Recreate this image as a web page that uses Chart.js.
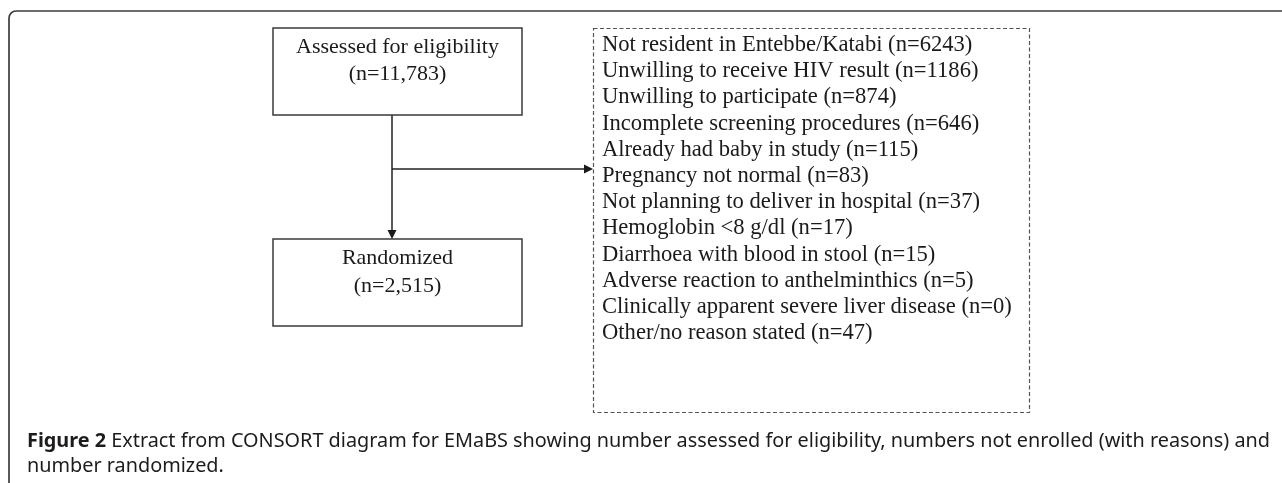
<!DOCTYPE html>
<html>
<head>
<meta charset="utf-8">
<script src="https://cdn.jsdelivr.net/npm/chart.js@4"></script>
<style>
    body { margin: 0; background: #fff; }
    canvas { display: block; }
</style>
</head>
<body>
<canvas id="consortChart" width="1282" height="483"></canvas>
<script>
// data
const assessedLabel = 'Assessed for eligibility';
const assessedCount = 11783;
const randomizedLabel = 'Randomized';
const randomizedCount = 2515;
const reasonLabels = [
    'Not resident in Entebbe/Katabi',
    'Unwilling to receive HIV result',
    'Unwilling to participate',
    'Incomplete screening procedures',
    'Already had baby in study',
    'Pregnancy not normal',
    'Not planning to deliver in hospital',
    'Hemoglobin <8 g/dl',
    'Diarrhoea with blood in stool',
    'Adverse reaction to anthelminthics',
    'Clinically apparent severe liver disease',
    'Other/no reason stated'
];
const reasonCounts = [6243, 1186, 874, 646, 115, 83, 37, 17, 15, 5, 0, 47];
const captionBold = 'Figure 2';
const captionLines = [
    ' Extract from CONSORT diagram for EMaBS showing number assessed for eligibility, numbers not enrolled (with reasons) and',
    'number randomized.'
];

// layout in diagram units (the axes run 0..1282 and 0..483, y downwards)
const topBox = {x1: 273, y1: 28, x2: 522, y2: 115};
const bottomBox = {x1: 273, y1: 239, x2: 522, y2: 326};
const reasonBox = {x1: 593, y1: 28, x2: 1029, y2: 412};
const stemX = 392;
const branchY = 169;

const serif = '"Liberation Serif", "DejaVu Serif", serif';
const sans = '"Noto Sans", "Open Sans", sans-serif';

const fmt = (n) => '(n=' + n + ')';

const drawArrowHead = (ctx, x, y, dir) => {
    ctx.beginPath();
    if (dir === 'down') {
        ctx.moveTo(x, y);
        ctx.lineTo(x - 4.5, y - 9);
        ctx.lineTo(x + 4.5, y - 9);
    } else {
        ctx.moveTo(x, y);
        ctx.lineTo(x - 9, y - 4.5);
        ctx.lineTo(x - 9, y + 4.5);
    }
    ctx.closePath();
    ctx.fill();
};

const flowPlugin = {
    id: 'flow',
    afterDatasetsDraw(chart) {
        const ctx = chart.ctx;
        const sx = chart.scales.x;
        const sy = chart.scales.y;
        const px = (v) => sx.getPixelForValue(v);
        const py = (v) => sy.getPixelForValue(v);
        ctx.save();

        // outer figure frame (top and left edges only, round corner)
        ctx.strokeStyle = '#3c3c3c';
        ctx.lineWidth = 1.7;
        ctx.beginPath();
        ctx.moveTo(px(9), py(483));
        ctx.lineTo(px(9), py(18));
        ctx.arcTo(px(9), py(11), px(16), py(11), 7);
        ctx.lineTo(px(1282), py(11));
        ctx.stroke();

        // solid boxes
        ctx.strokeStyle = '#3a3a3a';
        ctx.lineWidth = 1.5;
        [topBox, bottomBox].forEach(b => {
            ctx.strokeRect(px(b.x1), py(b.y1), px(b.x2) - px(b.x1), py(b.y2) - py(b.y1));
        });

        // dashed exclusion box
        ctx.strokeStyle = '#555';
        ctx.lineWidth = 1.2;
        ctx.setLineDash([4, 2.5]);
        ctx.strokeRect(px(reasonBox.x1) + 0.5, py(reasonBox.y1) + 0.5,
            px(reasonBox.x2) - px(reasonBox.x1), py(reasonBox.y2) - py(reasonBox.y1));
        ctx.setLineDash([]);

        // arrow heads
        ctx.fillStyle = '#1a1a1a';
        drawArrowHead(ctx, px(stemX), py(bottomBox.y1), 'down');
        drawArrowHead(ctx, px(reasonBox.x1), py(branchY), 'right');

        // box texts
        ctx.fillStyle = '#1a1a1a';
        ctx.font = '22px ' + serif;
        ctx.textAlign = 'center';
        ctx.textBaseline = 'alphabetic';
        const cx = px((topBox.x1 + topBox.x2) / 2);
        ctx.fillText(assessedLabel, cx, py(topBox.y1 + 25));
        ctx.fillText(fmt(assessedCount.toLocaleString('en-US')), cx, py(topBox.y1 + 52));
        ctx.fillText(randomizedLabel, cx, py(bottomBox.y1 + 25));
        ctx.fillText(fmt(randomizedCount.toLocaleString('en-US')), cx, py(bottomBox.y1 + 53));

        // reasons
        ctx.textAlign = 'left';
        ctx.font = '22.6px ' + serif;
        reasonLabels.forEach((label, i) => {
            ctx.fillText(label + ' ' + fmt(reasonCounts[i]), px(reasonBox.x1 + 9), py(51 + i * 26.2));
        });

        // caption, squeezed to the width of the original
        const boldFont = 'bold 20px ' + sans;
        const normFont = '20px ' + sans;
        ctx.font = boldFont;
        const wBold = ctx.measureText(captionBold).width;
        ctx.font = normFont;
        const wRest = ctx.measureText(captionLines[0]).width;
        const squeeze = (px(1270) - px(27)) / (wBold + wRest);
        ctx.fillStyle = '#1e1b1c';
        ctx.save();
        ctx.translate(px(27), py(447));
        ctx.scale(squeeze, 1);
        ctx.font = boldFont;
        ctx.fillText(captionBold, 0, 0);
        ctx.font = normFont;
        ctx.fillText(captionLines[0], wBold, 0);
        ctx.restore();
        ctx.save();
        ctx.translate(px(27), py(472));
        ctx.scale(squeeze, 1);
        ctx.fillText(captionLines[1], 0, 0);
        ctx.restore();

        ctx.restore();
    }
};

const ctxFlow = document.getElementById('consortChart').getContext('2d');
new Chart(ctxFlow, {
    type: 'scatter',
    data: {
        datasets: [{
            label: 'stem',
            data: [{x: stemX, y: topBox.y2}, {x: stemX, y: bottomBox.y1 - 6}],
            showLine: true,
            borderColor: '#222',
            borderWidth: 1.5,
            pointRadius: 0
        }, {
            label: 'branch',
            data: [{x: stemX, y: branchY}, {x: reasonBox.x1 - 6, y: branchY}],
            showLine: true,
            borderColor: '#222',
            borderWidth: 1.5,
            pointRadius: 0
        }]
    },
    options: {
        responsive: false,
        animation: false,
        events: [],
        layout: { padding: 0 },
        scales: {
            x: { type: 'linear', min: 0, max: 1282, display: false },
            y: { type: 'linear', min: 0, max: 483, reverse: true, display: false }
        },
        plugins: {
            legend: { display: false }, // no legend in the figure
            tooltip: { enabled: false }
        }
    },
    plugins: [flowPlugin]
});
</script>
</body>
</html>
